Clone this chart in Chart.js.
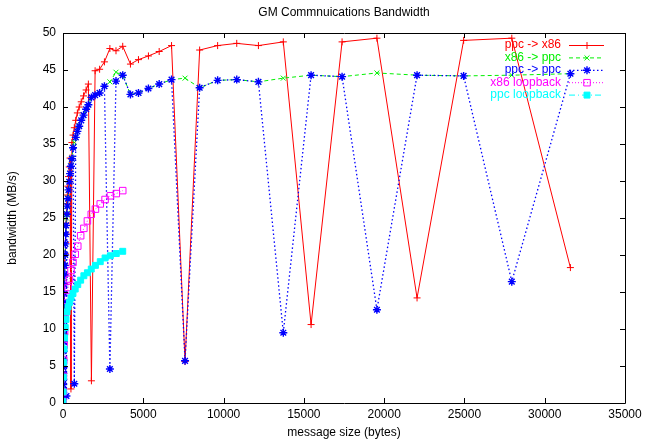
<!DOCTYPE html>
<html>
<head>
<meta charset="utf-8">
<script src="https://cdn.jsdelivr.net/npm/chart.js@4/dist/chart.umd.min.js"></script>
<style>
html,body{margin:0;padding:0;background:#fff;}
#wrap{width:647px;height:445px;}
</style>
</head>
<body>
<div id="wrap"><canvas id="c" width="647" height="445"></canvas></div>
<script>
// ---- data ----
const TITLE = "GM Commnuications Bandwidth";
const X_LABEL = "message size (bytes)";
const Y_LABEL = "bandwidth (MB/s)";
const X_TICKS = [0, 5000, 10000, 15000, 20000, 25000, 30000, 35000];
const Y_TICKS = [0, 5, 10, 15, 20, 25, 30, 35, 40, 45, 50];

// message sizes (bytes) for the three node-to-node series
const SIZES = [2, 4, 6, 8, 11, 14, 18, 22, 27, 33,
  40, 46, 52, 58, 65, 74, 83, 93, 105, 118,
  133, 150, 169, 191, 215, 242, 272, 306, 345, 390,
  440, 495, 555, 625, 705, 795, 895, 1010, 1135, 1280,
  1440, 1580, 1770, 2000, 2280, 2580, 2920, 3300, 3720, 4200,
  4700, 5320, 5990, 6760, 7600, 8510, 9630, 10820, 12170, 13720,
  15450, 17380, 19550, 22050, 24950, 27950, 31600];

const PPC_X86 = [0.5, 1.0, 1.5, 1.9, 2.6, 3.3, 4.1, 5.0, 6.0, 7.1,
  8.4, 9.4, 10.4, 11.4, 12.5, 13.7, 14.9, 16.1, 17.4, 18.8,
  20.2, 21.7, 23.0, 24.3, 25.6, 26.9, 28.1, 29.3, 30.6, 31.9,
  33.1, 1.9, 35.2, 36.2, 37.2, 38.2, 39.2, 40.0, 40.7, 41.5,
  42.3, 43.1, 3.0, 44.9, 45.1, 46.1, 47.9, 47.6, 48.2, 45.8,
  46.4, 46.9, 47.5, 48.3, 5.6, 47.7, 48.3, 48.6, 48.3, 48.8,
  10.6, 48.8, 49.3, 14.2, 49.0, 49.3, 18.3];

const X86_PPC = [0.5, 0.9, 1.4, 1.8, 2.5, 3.2, 4.0, 4.8, 5.8, 7.0,
  8.3, 9.3, 10.3, 11.3, 12.4, 13.6, 14.8, 16.0, 17.3, 18.6,
  20.0, 21.5, 22.8, 24.0, 25.0, 25.6, 26.7, 27.7, 28.8, 29.9,
  31.0, 32.1, 33.1, 34.5, 35.2, 35.9, 36.7, 37.5, 38.2, 38.9,
  39.7, 40.3, 41.3, 41.6, 41.9, 42.8, 43.4, 44.7, 44.3, 41.7,
  41.9, 42.5, 43.1, 43.7, 43.9, 42.6, 43.6, 43.7, 43.4, 43.9,
  44.3, 44.1, 44.6, 44.3, 44.2, 44.3, 44.5];

const PPC_PPC = [0.5, 0.9, 1.4, 1.8, 2.5, 3.2, 4.0, 4.8, 5.8, 7.0,
  8.3, 9.3, 10.3, 11.3, 12.4, 13.6, 14.8, 16.0, 17.3, 18.6,
  20.0, 21.5, 22.8, 24.0, 0.95, 25.5, 26.6, 27.6, 28.8, 29.9,
  31.0, 32.0, 33.0, 34.5, 2.6, 35.9, 36.7, 37.4, 38.2, 38.9,
  39.7, 40.3, 41.3, 41.6, 41.9, 42.8, 4.6, 43.5, 44.3, 41.7,
  41.9, 42.5, 43.1, 43.7, 5.7, 42.6, 43.6, 43.7, 43.4, 9.5,
  44.3, 44.1, 12.6, 44.3, 44.2, 16.4, 44.5];

// message sizes for the loopback runs
const LOOP_SIZES = [1, 10, 25, 45, 70, 100, 140, 190, 250, 320,
  400, 500, 620, 760, 920, 1100, 1300, 1520, 1760, 2020,
  2320, 2620, 2950, 3320, 3720];
const X86_LOOP = [0.2, 1.5, 3.6, 5.8, 7.8, 9.6, 11.4, 13.0, 14.4, 15.6,
  16.7, 17.9, 19.0, 20.1, 21.2, 22.6, 23.6, 24.6, 25.5, 26.2,
  26.9, 27.5, 28.0, 28.3, 28.7];
const PPC_LOOP = [0.2, 1.5, 3.5, 5.5, 7.3, 8.8, 10.2, 11.3, 12.3, 13.0,
  13.6, 14.2, 14.8, 15.4, 16.0, 16.6, 17.2, 17.6, 18.1, 18.6,
  19.1, 19.6, 19.9, 20.2, 20.5];

const SERIES_NAMES = ["ppc -> x86", "x86 -> ppc", "ppc -> ppc", "x86 loopback", "ppc loopback"];

// ---- build chart ----
const FONT = '"Liberation Sans", Arial, Helvetica, sans-serif';
const pts = (xs, ys) => xs.map((x, i) => ({x: x, y: ys[i]}));

const datasets = [
  {label: SERIES_NAMES[0], data: pts(SIZES, PPC_X86), borderColor: '#ff0000', pointBorderColor: '#ff0000',
   pointBackgroundColor: '#ff0000', borderWidth: 1, borderDash: [], pointStyle: 'cross', pointRadius: 3.5,
   pointBorderWidth: 1, order: 5},
  {label: SERIES_NAMES[1], data: pts(SIZES, X86_PPC), borderColor: '#00f000', pointBorderColor: '#00f000',
   pointBackgroundColor: '#00f000', borderWidth: 1, borderDash: [4, 3], pointStyle: 'crossRot', pointRadius: 3.5,
   pointBorderWidth: 1, order: 4},
  {label: SERIES_NAMES[2], data: pts(SIZES, PPC_PPC), borderColor: '#0000ff', pointBorderColor: '#0000ff',
   pointBackgroundColor: '#0000ff', borderWidth: 1.3, borderDash: [1.5, 2.5], pointStyle: 'star', pointRadius: 4,
   pointBorderWidth: 1.4, order: 3},
  {label: SERIES_NAMES[3], data: pts(LOOP_SIZES, X86_LOOP), borderColor: '#ff00ff', pointBorderColor: '#ff00ff',
   pointBackgroundColor: 'rgba(255,255,255,0)', borderWidth: 1, borderDash: [1, 2], pointStyle: 'rect', pointRadius: 4.6,
   pointBorderWidth: 1, order: 2},
  {label: SERIES_NAMES[4], data: pts(LOOP_SIZES, PPC_LOOP), borderColor: '#00ffff', pointBorderColor: '#00ffff',
   pointBackgroundColor: '#00ffff', borderWidth: 1, borderDash: [6, 3, 1, 3], pointStyle: 'rect', pointRadius: 4.2,
   pointBorderWidth: 1, order: 1}
];
datasets.forEach(d => { d.showLine = true; d.fill = false; d.tension = 0; d.pointHoverRadius = d.pointRadius; });

const gnuplotFrame = {
  id: 'gnuplotFrame',
  afterDraw(chart) {
    const ctx = chart.ctx, a = chart.chartArea;
    const xs = chart.scales.x, ys = chart.scales.y;
    ctx.save();
    // title
    ctx.fillStyle = '#000';
    ctx.font = '12px ' + FONT;
    ctx.textAlign = 'center';
    ctx.textBaseline = 'middle';
    ctx.fillText(TITLE, (a.left + a.right) / 2, 13);
    // border box
    ctx.strokeStyle = '#000';
    ctx.lineWidth = 1;
    ctx.beginPath();
    ctx.rect(Math.round(a.left) + 0.5, Math.round(a.top) + 0.5, Math.round(a.right - a.left), Math.round(a.bottom - a.top));
    ctx.stroke();
    // inward ticks (mirrored)
    const T = 5;
    ctx.beginPath();
    X_TICKS.forEach(v => {
      const px = Math.round(xs.getPixelForValue(v)) + 0.5;
      ctx.moveTo(px, a.bottom); ctx.lineTo(px, a.bottom - T);
      ctx.moveTo(px, a.top); ctx.lineTo(px, a.top + T);
    });
    Y_TICKS.forEach(v => {
      const py = Math.round(ys.getPixelForValue(v)) + 0.5;
      ctx.moveTo(a.left, py); ctx.lineTo(a.left + T, py);
      ctx.moveTo(a.right, py); ctx.lineTo(a.right - T, py);
    });
    ctx.stroke();
    // key (gnuplot style: right-aligned text, then sample)
    const textRight = a.right - 64, lineL = a.right - 56, lineR = a.right - 21, mid = a.right - 38;
    chart.data.datasets.forEach((ds, i) => {
      const y = a.top + 12 + i * 12.4;
      ctx.fillStyle = ds.borderColor;
      ctx.textAlign = 'right';
      ctx.fillText(ds.label, textRight, y);
      ctx.strokeStyle = ds.borderColor;
      ctx.lineWidth = ds.borderWidth;
      ctx.setLineDash(ds.borderDash);
      ctx.beginPath(); ctx.moveTo(lineL, y + 0.5); ctx.lineTo(lineR, y + 0.5); ctx.stroke();
      ctx.setLineDash([]);
      ctx.fillStyle = ds.pointBackgroundColor;
      ctx.strokeStyle = ds.pointBorderColor;
      ctx.lineWidth = ds.pointBorderWidth;
      Chart.helpers.drawPoint(ctx, {pointStyle: ds.pointStyle, radius: ds.pointRadius, borderWidth: ds.pointBorderWidth, rotation: 0}, mid, y + 0.5);
    });
    ctx.restore();
  }
};

new Chart(document.getElementById('c'), {
  type: 'scatter',
  data: {datasets: datasets},
  options: {
    responsive: false,
    animation: false,
    events: [],
    layout: {padding: {top: 33, right: 22, left: 0, bottom: 0}},
    plugins: {legend: {display: false}, title: {display: false}, tooltip: {enabled: false}},
    scales: {
      x: {
        type: 'linear', min: 0, max: 35000,
        afterFit: s => { s.height = 42; },
        afterBuildTicks: s => { s.ticks = X_TICKS.map(v => ({value: v})); },
        grid: {display: false, drawTicks: false},
        border: {display: false},
        ticks: {color: '#000', font: {family: FONT, size: 12}, padding: 4, maxRotation: 0, autoSkip: false,
                callback: v => String(v)},
        title: {display: true, text: X_LABEL, color: '#000', font: {family: FONT, size: 12}, padding: {top: 2, bottom: 5}}
      },
      y: {
        type: 'linear', min: 0, max: 50,
        afterFit: s => { s.width = 63; },
        afterBuildTicks: s => { s.ticks = Y_TICKS.map(v => ({value: v})); },
        grid: {display: false, drawTicks: false},
        border: {display: false},
        ticks: {color: '#000', font: {family: FONT, size: 12}, padding: 7, autoSkip: false,
                callback: v => String(v)},
        title: {display: true, text: Y_LABEL, color: '#000', font: {family: FONT, size: 12}, padding: {top: 5, bottom: 4}}
      }
    }
  },
  plugins: [gnuplotFrame]
});
</script>
</body>
</html>
